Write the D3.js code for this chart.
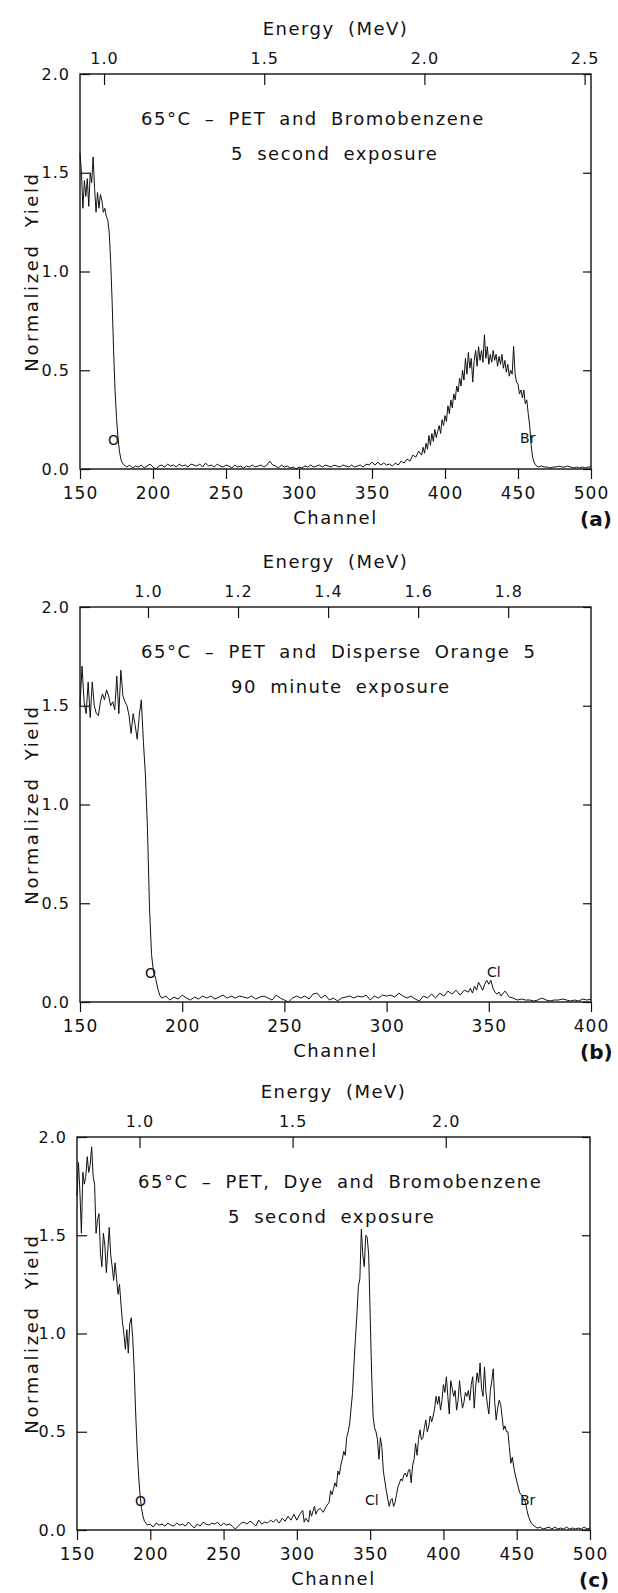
<!DOCTYPE html>
<html>
<head>
<meta charset="utf-8">
<script src="https://cdn.jsdelivr.net/npm/d3@7"></script>
<style>
  body { margin: 0; background: #fff; }
  svg { display: block; font-family: "DejaVu Sans", sans-serif; }
</style>
</head>
<body>
<svg id="chart" width="618" height="1593"></svg>
<script>
// spectra: [channel, normalized yield]
const spectrumA = [
  [150,1.60],[151,1.50],[152,1.32],[153,1.46],[154,1.38],[155,1.47],[156,1.33],[157,1.50],[158,1.45],[159,1.58],
  [160,1.42],[161,1.30],[162,1.40],[163,1.32],[164,1.39],[165,1.36],[166,1.30],[167,1.32],[168,1.28],[169,1.26],
  [170,1.20],[171,1.05],[172,0.85],[173,0.60],[174,0.40],[175,0.26],[176,0.16],[177,0.09],[178,0.05],[179,0.03],
  [181,0.015],[182,0.01],[184,0.02],[186,0.005],[188,0.015],[190,0.01],[192,0.02],[194,0.005],[196,0.015],[198,0.025],
  [200,0.01],[202,0.0],[204,0.015],[206,0.02],[208,0.01],[210,0.025],[212,0.015],[214,0.02],[216,0.01],[218,0.025],
  [220,0.015],[222,0.02],[224,0.01],[226,0.025],[228,0.02],[230,0.015],[232,0.025],[234,0.01],[236,0.03],[238,0.015],
  [240,0.02],[242,0.01],[244,0.025],[246,0.015],[248,0.01],[250,0.02],[252,0.015],[254,0.005],[256,0.02],[258,0.01],
  [260,0.015],[262,0.005],[264,0.015],[266,0.01],[268,0.02],[270,0.01],[272,0.015],[274,0.02],[276,0.01],[278,0.02],
  [280,0.04],[282,0.02],[284,0.015],[286,0.005],[288,0.02],[290,0.01],[292,0.015],[294,0.005],[296,0.01],[298,0.0],
  [300,0.01],[302,0.005],[304,0.015],[306,0.01],[308,0.02],[310,0.01],[312,0.015],[314,0.02],[316,0.01],[318,0.02],
  [320,0.015],[322,0.01],[324,0.02],[326,0.015],[328,0.01],[330,0.02],[332,0.015],[334,0.01],[336,0.02],[338,0.01],
  [340,0.015],[342,0.02],[344,0.01],[346,0.025],[348,0.02],[350,0.035],[352,0.02],[354,0.035],[356,0.02],[358,0.03],
  [360,0.02],[362,0.025],[364,0.015],[366,0.03],[368,0.02],[370,0.04],[372,0.03],[374,0.05],[376,0.04],[378,0.07],
  [380,0.06],[382,0.09],[384,0.07],[385,0.11],[386,0.08],[387,0.13],[388,0.10],[389,0.17],[390,0.12],[391,0.18],
  [392,0.14],[393,0.20],[394,0.16],[395,0.19],[396,0.22],[397,0.18],[398,0.25],[399,0.22],[400,0.27],[401,0.24],
  [402,0.32],[403,0.28],[404,0.35],[405,0.31],[406,0.38],[407,0.35],[408,0.42],[409,0.39],[410,0.46],[411,0.42],
  [412,0.50],[413,0.45],[414,0.56],[415,0.48],[416,0.59],[417,0.51],[418,0.56],[419,0.44],[420,0.55],[421,0.60],
  [422,0.52],[423,0.62],[424,0.55],[425,0.60],[426,0.54],[427,0.68],[428,0.56],[429,0.62],[430,0.53],[431,0.58],
  [432,0.54],[433,0.60],[434,0.55],[435,0.58],[436,0.52],[437,0.57],[438,0.53],[439,0.58],[440,0.51],[441,0.55],
  [442,0.49],[443,0.53],[444,0.47],[445,0.50],[446,0.48],[447,0.62],[448,0.48],[449,0.44],[450,0.43],[451,0.38],
  [452,0.40],[453,0.36],[454,0.40],[455,0.33],[456,0.35],[457,0.28],[458,0.22],[459,0.12],[460,0.06],[461,0.035],
  [462,0.02],[464,0.01],[466,0.015],[468,0.01],[470,0.01],[472,0.005],[474,0.01],[476,0.01],[478,0.015],[480,0.01],
  [482,0.01],[484,0.015],[486,0.01],[488,0.005],[490,0.01],[492,0.005],[494,0.01],[496,0.005],[498,0.01],[500,0.01]
];

const spectrumB = [
  [150,1.50],[151,1.70],[152,1.52],[153,1.46],[154,1.62],[155,1.44],[156,1.62],[157,1.50],[158,1.46],[159,1.45],
  [160,1.52],[161,1.56],[162,1.53],[163,1.58],[164,1.55],[165,1.50],[166,1.52],[167,1.48],[168,1.65],[169,1.46],
  [170,1.68],[171,1.55],[172,1.52],[173,1.50],[174,1.45],[175,1.36],[176,1.46],[177,1.40],[178,1.33],[179,1.45],
  [180,1.53],[181,1.32],[182,1.15],[183,0.88],[184,0.48],[185,0.24],[186,0.15],[187,0.12],[188,0.07],[189,0.035],
  [190,0.02],[192,0.03],[194,0.01],[196,0.025],[198,0.015],[200,0.035],[202,0.02],[204,0.01],[206,0.025],[208,0.015],
  [210,0.03],[212,0.02],[214,0.03],[216,0.015],[218,0.025],[220,0.035],[222,0.02],[224,0.03],[226,0.02],[228,0.03],
  [230,0.025],[232,0.02],[234,0.03],[236,0.015],[238,0.025],[240,0.03],[242,0.02],[244,0.01],[246,0.035],[248,0.02],
  [250,0.01],[252,0.0],[254,0.02],[256,0.03],[258,0.02],[260,0.03],[262,0.015],[264,0.04],[266,0.045],[268,0.02],
  [270,0.035],[272,0.01],[274,0.02],[276,0.005],[278,0.02],[280,0.025],[282,0.03],[284,0.02],[286,0.03],[288,0.025],
  [290,0.035],[292,0.01],[294,0.03],[296,0.02],[298,0.035],[300,0.03],[302,0.035],[304,0.025],[306,0.045],[308,0.03],
  [310,0.02],[312,0.03],[314,0.015],[316,0.005],[318,0.03],[320,0.02],[322,0.04],[324,0.02],[326,0.045],[328,0.03],
  [330,0.055],[332,0.04],[334,0.06],[336,0.035],[338,0.06],[340,0.05],[341,0.07],[342,0.045],[343,0.08],[344,0.06],
  [345,0.10],[346,0.08],[347,0.06],[348,0.09],[349,0.11],[350,0.09],[351,0.11],[352,0.07],[353,0.05],[354,0.04],
  [355,0.05],[356,0.03],[357,0.045],[358,0.055],[359,0.04],[360,0.025],[362,0.02],[364,0.01],[366,0.015],[368,0.01],
  [370,0.01],[372,0.005],[374,0.01],[376,0.02],[378,0.01],[380,0.005],[382,0.01],[384,0.01],[386,0.015],[388,0.01],
  [390,0.005],[392,0.01],[394,0.005],[396,0.015],[398,0.01],[400,0.015]
];

const spectrumC = [
  [150,1.70],[151,1.87],[152,1.72],[153,1.51],[154,1.82],[155,1.76],[156,1.80],[157,1.90],[158,1.82],[159,1.86],
  [160,1.95],[161,1.80],[162,1.76],[163,1.51],[164,1.58],[165,1.61],[166,1.41],[167,1.34],[168,1.51],[169,1.45],
  [170,1.31],[171,1.42],[172,1.54],[173,1.40],[174,1.34],[175,1.27],[176,1.36],[177,1.28],[178,1.20],[179,1.25],
  [180,1.15],[181,1.06],[182,1.00],[183,0.92],[184,1.02],[185,0.90],[186,1.05],[187,1.08],[188,0.98],[189,0.82],
  [190,0.60],[191,0.42],[192,0.28],[193,0.18],[194,0.11],[195,0.07],[196,0.045],[197,0.035],[198,0.025],[200,0.03],
  [202,0.015],[204,0.035],[206,0.025],[208,0.03],[210,0.02],[212,0.035],[214,0.025],[216,0.02],[218,0.035],[220,0.025],
  [222,0.03],[224,0.02],[226,0.04],[228,0.025],[230,0.01],[232,0.03],[234,0.02],[236,0.04],[238,0.03],[240,0.025],
  [242,0.035],[244,0.03],[246,0.04],[248,0.02],[250,0.035],[252,0.025],[254,0.03],[256,0.02],[258,0.005],[260,0.02],
  [262,0.035],[264,0.04],[266,0.03],[268,0.045],[270,0.035],[272,0.02],[274,0.05],[276,0.03],[278,0.04],[280,0.035],
  [282,0.05],[284,0.04],[286,0.055],[288,0.035],[290,0.06],[292,0.045],[294,0.07],[296,0.05],[298,0.08],[300,0.05],
  [302,0.08],[304,0.10],[305,0.04],[306,0.06],[308,0.04],[309,0.10],[310,0.07],[312,0.12],[313,0.08],[314,0.10],
  [316,0.11],[318,0.09],[320,0.12],[322,0.14],[323,0.20],[324,0.18],[325,0.21],[326,0.24],[327,0.22],[328,0.30],
  [329,0.28],[330,0.33],[331,0.36],[332,0.40],[333,0.38],[334,0.47],[335,0.50],[336,0.54],[337,0.62],[338,0.70],
  [339,0.85],[340,0.98],[341,1.10],[342,1.24],[343,1.28],[344,1.53],[345,1.40],[346,1.34],[347,1.50],[348,1.49],
  [349,1.40],[350,1.10],[351,0.80],[352,0.58],[353,0.52],[354,0.50],[355,0.46],[356,0.36],[357,0.47],[358,0.42],
  [359,0.30],[360,0.25],[361,0.20],[362,0.16],[363,0.12],[364,0.15],[365,0.16],[366,0.12],[367,0.14],[368,0.18],
  [369,0.22],[370,0.24],[371,0.26],[372,0.25],[373,0.28],[374,0.29],[375,0.27],[376,0.30],[377,0.31],[378,0.24],
  [379,0.33],[380,0.36],[381,0.44],[382,0.38],[383,0.46],[384,0.51],[385,0.46],[386,0.47],[387,0.52],[388,0.56],
  [389,0.50],[390,0.53],[391,0.58],[392,0.55],[393,0.58],[394,0.62],[395,0.68],[396,0.64],[397,0.68],[398,0.61],
  [399,0.66],[400,0.74],[401,0.70],[402,0.78],[403,0.68],[404,0.59],[405,0.76],[406,0.72],[407,0.68],[408,0.71],
  [409,0.61],[410,0.66],[411,0.76],[412,0.68],[413,0.62],[414,0.65],[415,0.70],[416,0.68],[417,0.71],[418,0.66],
  [419,0.74],[420,0.78],[421,0.62],[422,0.73],[423,0.80],[424,0.75],[425,0.85],[426,0.72],[427,0.68],[428,0.83],
  [429,0.70],[430,0.64],[431,0.59],[432,0.71],[433,0.76],[434,0.82],[435,0.65],[436,0.56],[437,0.62],[438,0.66],
  [439,0.64],[440,0.58],[441,0.51],[442,0.53],[443,0.50],[444,0.50],[445,0.42],[446,0.34],[447,0.37],[448,0.32],
  [449,0.28],[450,0.25],[451,0.22],[452,0.19],[453,0.18],[454,0.17],[455,0.16],[456,0.14],[457,0.10],[458,0.07],
  [459,0.05],[460,0.035],[462,0.02],[464,0.01],[466,0.015],[468,0.005],[470,0.01],[472,0.015],[474,0.005],[476,0.015],
  [478,0.005],[480,0.01],[482,0.005],[484,0.015],[486,0.005],[488,0.01],[490,0.005],[492,0.01],[494,0.005],[496,0.015],
  [498,0.005],[500,0.01]
];

const yieldTicks = [0, 0.5, 1.0, 1.5, 2.0];
const channelTicksA = [150, 200, 250, 300, 350, 400, 450, 500];
const channelTicksB = [150, 200, 250, 300, 350, 400];
const channelTicksC = [150, 200, 250, 300, 350, 400, 450, 500];
const energyTicksA = [1.0, 1.5, 2.0, 2.5];
const energyTicksB = [1.0, 1.2, 1.4, 1.6, 1.8];
const energyTicksC = [1.0, 1.5, 2.0];

// element edge labels: [text, channel, yield]
const elementsA = [['O', 169.2, 0.12], ['Br', 451.4, 0.13]];
const elementsB = [['O', 181.8, 0.12], ['Cl', 349.1, 0.125]];
const elementsC = [['O', 189.6, 0.12], ['Cl', 346.5, 0.125], ['Br', 452.2, 0.125]];

const panels = [
  { data: spectrumA, left: 80, right: 591, top: 74, bottom: 469,
    chDomain: [150, 500], eDomain: [0.925, 2.52], chTicks: channelTicksA, eTicks: energyTicksA,
    title: '65°C – PET and Bromobenzene', sub: '5 second exposure', elements: elementsA, tag: '(a)' },
  { data: spectrumB, left: 80, right: 591, top: 607, bottom: 1002,
    chDomain: [150, 400], eDomain: [0.849, 1.984], chTicks: channelTicksB, eTicks: energyTicksB,
    title: '65°C – PET and Disperse Orange 5', sub: '90 minute exposure', elements: elementsB, tag: '(b)' },
  { data: spectrumC, left: 77, right: 590, top: 1137, bottom: 1530,
    chDomain: [150, 500], eDomain: [0.796, 2.471], chTicks: channelTicksC, eTicks: energyTicksC,
    title: '65°C – PET, Dye and Bromobenzene', sub: '5 second exposure', elements: elementsC, tag: '(c)' }
];

const svg = d3.select('#chart');
svg.append('rect').attr('width', 618).attr('height', 1593).attr('fill', '#fff');

function styleAxis(g, size) {
  g.select('.domain').remove();
  g.selectAll('line').attr('stroke', '#111').attr('stroke-width', 1.2);
  g.selectAll('text')
    .attr('fill', '#111')
    .style('font-family', '"DejaVu Sans", sans-serif')
    .style('font-size', size + 'px')
    .style('letter-spacing', '1px');
}

function drawPanel(p) {
  const x = d3.scaleLinear().domain(p.chDomain).range([p.left, p.right]);
  const e = d3.scaleLinear().domain(p.eDomain).range([p.left, p.right]);
  const y = d3.scaleLinear().domain([0, 2]).range([p.bottom, p.top]);
  const g = svg.append('g');

  g.append('g')
    .attr('transform', `translate(0, ${p.bottom})`)
    .call(d3.axisBottom(x).tickValues(p.chTicks).tickSizeInner(10).tickSizeOuter(0).tickPadding(8))
    .call(a => styleAxis(a, 17));

  g.append('g')
    .attr('transform', `translate(0, ${p.top})`)
    .call(d3.axisTop(e).tickValues(p.eTicks).tickFormat(d3.format('.1f'))
      .tickSizeInner(-11).tickSizeOuter(0).tickPadding(10))
    .call(a => styleAxis(a, 16));

  g.append('g')
    .attr('transform', `translate(${p.left}, 0)`)
    .call(d3.axisLeft(y).tickValues(yieldTicks).tickFormat(d3.format('.1f'))
      .tickSizeInner(-10).tickSizeOuter(0).tickPadding(10))
    .call(a => styleAxis(a, 16));

  g.append('g')
    .attr('transform', `translate(${p.right}, 0)`)
    .call(d3.axisRight(y).tickValues(yieldTicks).tickFormat('').tickSizeInner(-8).tickSizeOuter(0))
    .call(a => styleAxis(a, 16));

  g.append('rect')
    .attr('x', p.left).attr('y', p.top)
    .attr('width', p.right - p.left).attr('height', p.bottom - p.top)
    .attr('fill', 'none').attr('stroke', '#111').attr('stroke-width', 1.4);

  const line = d3.line().x(d => x(d[0])).y(d => y(d[1]));
  g.append('path')
    .datum(p.data)
    .attr('d', line)
    .attr('fill', 'none')
    .attr('stroke', '#111')
    .attr('stroke-width', 1)
    .attr('stroke-linejoin', 'round');

  g.selectAll('.element')
    .data(p.elements)
    .enter()
    .append('text')
    .attr('class', 'element')
    .attr('x', d => x(d[1]))
    .attr('y', d => y(d[2]))
    .style('font-size', '14px')
    .attr('fill', '#111')
    .text(d => d[0]);

  const mid = (p.left + p.right) / 2;
  const label = (txt, tx, ty, size, anchor) => g.append('text')
    .attr('x', tx).attr('y', ty)
    .attr('text-anchor', anchor || 'middle')
    .style('font-size', size + 'px')
    .style('letter-spacing', '1.5px')
    .style('word-spacing', '6px')
    .attr('fill', '#111')
    .text(txt);

  label('Energy (MeV)', mid, p.top - 39, 18);
  label('Channel', mid, p.bottom + 55, 18);
  label(p.title, p.left + 61, p.top + 51, 18, 'start');
  label(p.sub, p.left + 151, p.top + 86, 18, 'start');

  g.append('text')
    .attr('transform', `translate(38, ${(p.top + p.bottom) / 2}) rotate(-90)`)
    .attr('text-anchor', 'middle')
    .style('font-size', '18px')
    .style('letter-spacing', '2.6px')
    .style('word-spacing', '8px')
    .attr('fill', '#111')
    .text('Normalized Yield');

  g.append('text')
    .attr('x', p.right - 11).attr('y', p.bottom + 57)
    .style('font-size', '20px')
    .style('font-weight', 'bold')
    .attr('fill', '#111')
    .text(p.tag);
}

panels.forEach(drawPanel);
</script>
</body>
</html>
